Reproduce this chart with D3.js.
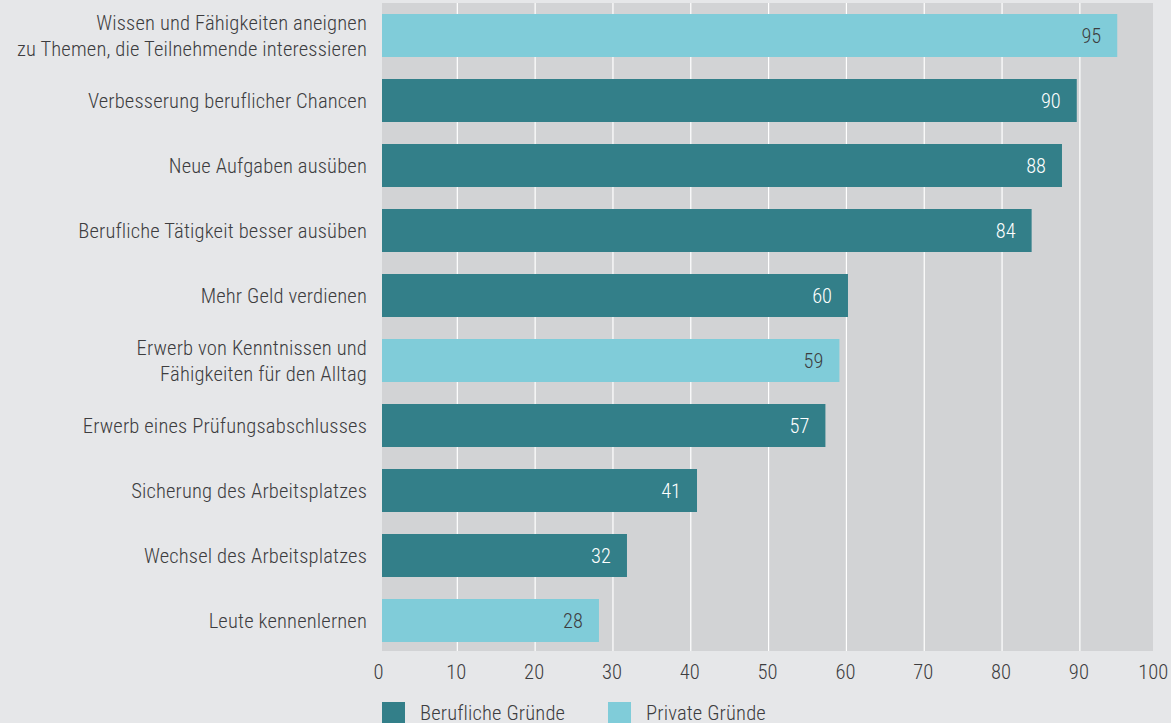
<!DOCTYPE html>
<html><head><meta charset="utf-8">
<script src="https://cdn.jsdelivr.net/npm/d3@7"></script>
<style>
html,body{margin:0;padding:0;background:#e6e7e9;}
svg{display:block;}
text{font-family:"Roboto Condensed",sans-serif;font-weight:300;fill:#3d3d3f;}
</style></head><body>
<svg id="c" width="1171" height="723"></svg>
<script>
const categories = [
  ["Wissen und Fähigkeiten aneignen","zu Themen, die Teilnehmende interessieren"],
  ["Verbesserung beruflicher Chancen"],
  ["Neue Aufgaben ausüben"],
  ["Berufliche Tätigkeit besser ausüben"],
  ["Mehr Geld verdienen"],
  ["Erwerb von Kenntnissen und","Fähigkeiten für den Alltag"],
  ["Erwerb eines Prüfungsabschlusses"],
  ["Sicherung des Arbeitsplatzes"],
  ["Wechsel des Arbeitsplatzes"],
  ["Leute kennenlernen"]
];
const values = [94.8, 89.6, 87.7, 83.8, 60.2, 59.1, 57.3, 40.8, 31.8, 28.2];
const labels = ["95","90","88","84","60","59","57","41","32","28"];
const groups = ["privat","beruflich","beruflich","beruflich","beruflich","privat","beruflich","beruflich","beruflich","privat"];
const seriesNames = ["Berufliche Gründe","Private Gründe"];
const seriesKeys = ["beruflich","privat"];
const xTicks = [0,10,20,30,40,50,60,70,80,90,100];

const colors = {beruflich:"#337f89", privat:"#80ccd9"};
const labelColors = {beruflich:"#ffffff", privat:"#3d3d3f"};

const svg = d3.select("#c");
const x = d3.scaleLinear().domain([0,100]).range([379.5,1157.7]);
const y = d3.scaleBand().domain(d3.range(categories.length)).range([3,653]).paddingInner(22/65).paddingOuter(11/65);

// panel
svg.append("rect").attr("x",382).attr("y",3).attr("width",1153-382).attr("height",651-3).attr("fill","#d2d3d5");

// gridlines
svg.append("g").selectAll("line").data(xTicks.filter(d=>d>0 && d<100)).join("line")
  .attr("x1",d=>x(d)).attr("x2",d=>x(d)).attr("y1",3).attr("y2",651)
  .attr("stroke","#ffffff").attr("stroke-width",1.2);

// bars
svg.append("g").selectAll("rect").data(values).join("rect")
  .attr("x",382).attr("y",(d,i)=>y(i)).attr("width",d=>x(d)-382).attr("height",y.bandwidth())
  .attr("fill",(d,i)=>colors[groups[i]]);

// value labels
svg.append("g").selectAll("text").data(values).join("text")
  .attr("x",d=>x(d)-16).attr("y",(d,i)=>y(i)+y.bandwidth()/2).attr("dy","0.36em")
  .attr("text-anchor","end").attr("font-size",20.4)
  .style("fill",(d,i)=>labelColors[groups[i]]).text((d,i)=>labels[i]);

// category labels
const cl = svg.append("g").selectAll("text").data(categories).join("text")
  .attr("text-anchor","end").attr("font-size",20.6).attr("letter-spacing",0.15)
  .attr("y",(d,i)=>y(i)+y.bandwidth()/2);
cl.each(function(lines){
  const t = d3.select(this);
  const n = lines.length;
  lines.forEach((l,j)=>{
    t.append("tspan").attr("x",367).attr("dy", j===0 ? ((0.36 - (n-1)*0.65)+"em") : "1.3em").text(l);
  });
});

// x axis
const ax = d3.axisBottom(x).tickValues(xTicks).tickSize(0).tickPadding(0);
const g = svg.append("g").attr("transform","translate(-1.5,672)").call(ax);
g.select(".domain").remove();
g.selectAll("text").attr("font-size",20.6).attr("dy","0.36em")
  .style("font-family","'Roboto Condensed',sans-serif").style("font-weight",300).style("fill","#3d3d3f");
g.selectAll(".tick").filter(d=>d===100).select("text").attr("text-anchor","end").attr("x",11.5);

// legend
const leg = svg.append("g");
const legX = [382, 608];
seriesKeys.forEach((k,i)=>{
  leg.append("rect").attr("x",legX[i]).attr("y",702).attr("width",23).attr("height",23).attr("fill",colors[k]);
  leg.append("text").attr("x",legX[i]+38).attr("y",720).attr("font-size",20.6).attr("letter-spacing",0.15).text(seriesNames[i]);
});
</script>
</body></html>
